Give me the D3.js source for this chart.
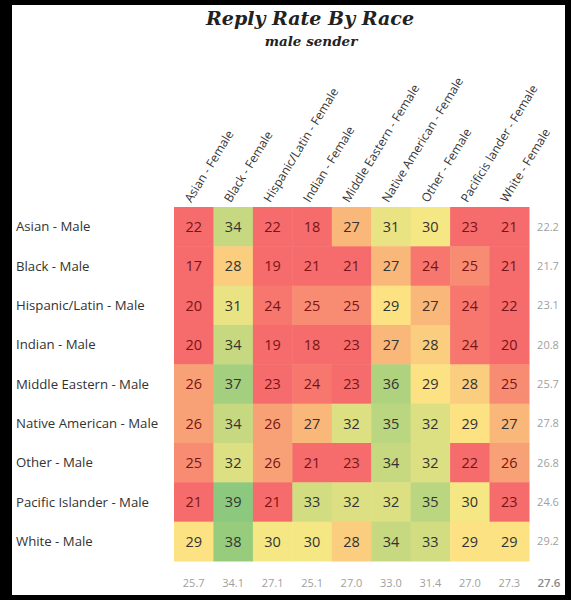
<!DOCTYPE html>
<html><head><meta charset="utf-8">
<script src="https://cdn.jsdelivr.net/npm/d3@7/dist/d3.min.js"></script>
<style>html,body{margin:0;padding:0;background:#000;}svg{display:block;}</style>
</head><body>
<script>
const title = "Reply Rate By Race";
const subtitle = "male sender";
const femaleCats = ["Asian - Female","Black - Female","Hispanic/Latin - Female","Indian - Female","Middle Eastern - Female","Native American - Female","Other - Female","Pacificis lander - Female","White - Female"];
const maleCats = ["Asian - Male","Black - Male","Hispanic/Latin - Male","Indian - Male","Middle Eastern - Male","Native American - Male","Other - Male","Pacific Islander - Male","White - Male"];
const values = [
  [22,34,22,18,27,31,30,23,21],
  [17,28,19,21,21,27,24,25,21],
  [20,31,24,25,25,29,27,24,22],
  [20,34,19,18,23,27,28,24,20],
  [26,37,23,24,23,36,29,28,25],
  [26,34,26,27,32,35,32,29,27],
  [25,32,26,21,23,34,32,22,26],
  [21,39,21,33,32,32,35,30,23],
  [29,38,30,30,28,34,33,29,29]
];
const rowTotals = ["22.2","21.7","23.1","20.8","25.7","27.8","26.8","24.6","29.2"];
const colTotals = ["25.7","34.1","27.1","25.1","27.0","33.0","31.4","27.0","27.3"];
const grandTotal = "27.6";

const W = 571, H = 600;
const svg = d3.select("body").append("svg").attr("width", W).attr("height", H);
svg.append("rect").attr("width", W).attr("height", H).attr("fill", "#000");
svg.append("rect").attr("x", 12).attr("y", 5).attr("width", 553).attr("height", 590).attr("fill", "#fff");

const gridLeft = 174, gridTop = 207, gridW = 355, gridH = 354;
const x = d3.scaleBand().domain(femaleCats).range([gridLeft, gridLeft + gridW]);
const y = d3.scaleBand().domain(maleCats).range([gridTop, gridTop + gridH]);
const color = d3.scaleLinear().domain([23.5, 29.3, 40]).range(["#F66B6C", "#FDE984", "#80C57C"]).clamp(true);

const font = "'Open Sans', sans-serif";

// title
svg.append("text").attr("x", 310).attr("y", 25).attr("text-anchor", "middle")
  .attr("font-family", "'DejaVu Serif', serif").attr("font-weight", "bold").attr("font-style", "italic")
  .attr("font-size", 19).attr("fill", "#222").text(title);
svg.append("text").attr("x", 311).attr("y", 46).attr("text-anchor", "middle")
  .attr("font-family", "'DejaVu Serif', serif").attr("font-weight", "bold").attr("font-style", "italic")
  .attr("font-size", 13.5).attr("fill", "#222").text(subtitle);

// cells
const cells = [];
values.forEach((row, i) => row.forEach((v, j) => cells.push({r: maleCats[i], c: femaleCats[j], v})));
const g = svg.append("g");
g.selectAll("rect.cell").data(cells).join("rect").attr("class", "cell")
  .attr("x", d => x(d.c)).attr("y", d => y(d.r))
  .attr("width", x.bandwidth() + 0.5).attr("height", y.bandwidth() + 0.5)
  .attr("fill", d => color(d.v));
g.selectAll("text.val").data(cells).join("text").attr("class", "val")
  .attr("x", d => x(d.c) + x.bandwidth() / 2).attr("y", d => y(d.r) + y.bandwidth() / 2)
  .attr("dy", "0.36em").attr("text-anchor", "middle")
  .attr("font-family", font).attr("font-size", 14.5)
  .attr("fill", d => d.v <= 26 ? "#7a1414" : "#333")
  .text(d => d.v);

// row labels
svg.selectAll("text.rlab").data(maleCats).join("text").attr("class", "rlab")
  .attr("x", 16).attr("y", d => y(d) + y.bandwidth() / 2).attr("dy", "0.35em")
  .attr("font-family", font).attr("font-size", 13.2).attr("fill", "#333").text(d => d);

// column labels
svg.selectAll("text.clab").data(femaleCats).join("text").attr("class", "clab")
  .attr("transform", d => `translate(${x(d) + x.bandwidth() / 2 - 6},${gridTop - 6}) rotate(-58.5)`)
  .attr("dy", "0.35em").attr("text-anchor", "start")
  .attr("font-family", font).attr("font-size", 12.1).attr("fill", "#333").text(d => d);

// row totals
svg.selectAll("text.rt").data(rowTotals).join("text").attr("class", "rt")
  .attr("x", 548).attr("y", (d, i) => y(maleCats[i]) + y.bandwidth() / 2).attr("dy", "0.35em")
  .attr("text-anchor", "middle").attr("font-family", font).attr("font-size", 11).attr("fill", "#a0a0a0").text(d => d);
// column totals
svg.selectAll("text.ct").data(colTotals).join("text").attr("class", "ct")
  .attr("x", (d, i) => x(femaleCats[i]) + x.bandwidth() / 2).attr("y", 583).attr("dy", "0.35em")
  .attr("text-anchor", "middle").attr("font-family", font).attr("font-size", 11).attr("fill", "#a0a0a0").text(d => d);
svg.append("text").attr("x", 549).attr("y", 583).attr("dy", "0.35em").attr("text-anchor", "middle")
  .attr("font-family", font).attr("font-size", 11.5).attr("font-weight", 600).attr("fill", "#888").text(grandTotal);
</script>
</body></html>
